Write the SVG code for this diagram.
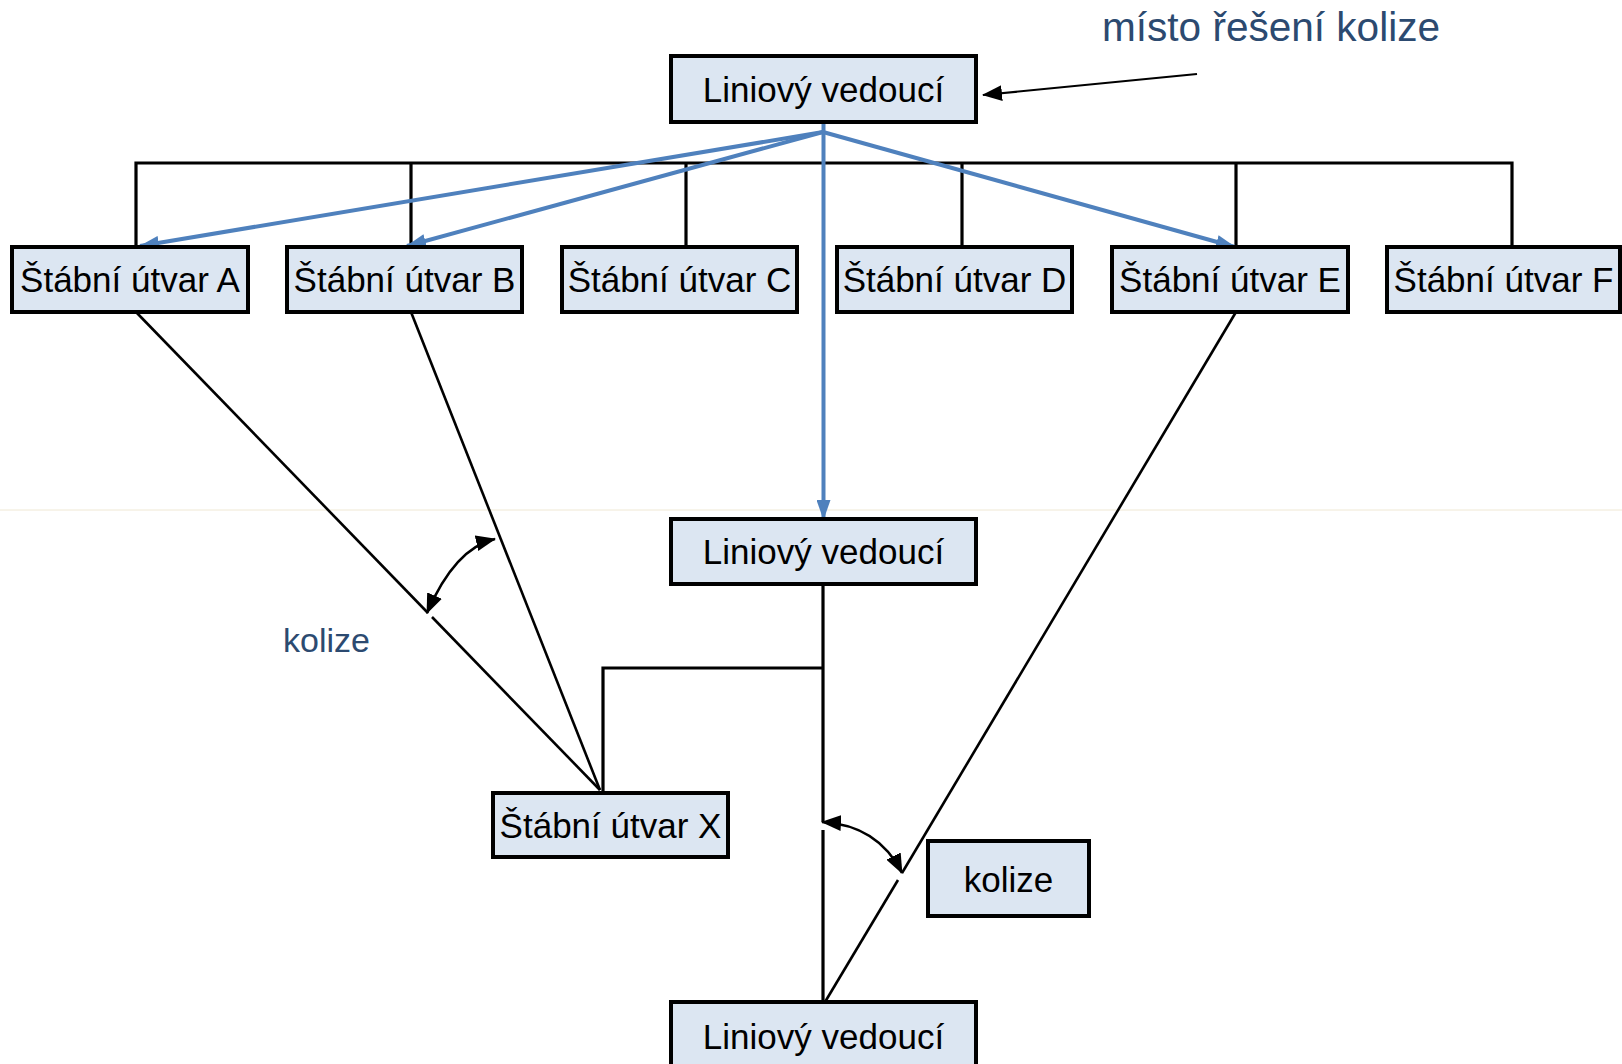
<svg xmlns="http://www.w3.org/2000/svg" width="1622" height="1064" viewBox="0 0 1622 1064">
<style>
.box{fill:#dce6f2;stroke:#000;stroke-width:4}
.t{font-family:"Liberation Sans",Arial,sans-serif;font-size:35px;fill:#000;text-anchor:middle}
.lbl{font-family:"Liberation Sans",Arial,sans-serif;fill:#2c4a70}
.ln{fill:none;stroke:#000;stroke-width:3.2}
.dg{fill:none;stroke:#000;stroke-width:2.6}
.bl{fill:none;stroke:#4f81bd;stroke-width:4}
</style>
<defs>
<marker id="ab" markerUnits="userSpaceOnUse" markerWidth="20" markerHeight="14" refX="19" refY="7" orient="auto"><path d="M0,0 L20,7 L0,14 z" fill="#4f81bd"/></marker>
<marker id="ak" markerUnits="userSpaceOnUse" markerWidth="20" markerHeight="16" refX="19" refY="8" orient="auto-start-reverse"><path d="M0,0 L20,8 L0,16 z" fill="#000"/></marker>
</defs>
<rect width="1622" height="1064" fill="#fff"/>
<line x1="0" y1="510" x2="1622" y2="510" stroke="#efe8d4" stroke-width="1"/>
<g id="connectors">
<polyline class="ln" points="136,247 136,163 1512,163 1512,247"/>
<line class="ln" x1="411" y1="163" x2="411" y2="247"/>
<line class="ln" x1="686" y1="163" x2="686" y2="247"/>
<line class="ln" x1="962" y1="163" x2="962" y2="247"/>
<line class="ln" x1="1236" y1="163" x2="1236" y2="247"/>
<line class="ln" x1="823" y1="584" x2="823" y2="822"/>
<line class="ln" x1="823" y1="830" x2="823" y2="1002"/>
<polyline class="ln" points="823,668 603,668 603,793"/>
<line class="dg" x1="136" y1="312" x2="428" y2="613"/>
<line class="dg" x1="432" y1="617" x2="600" y2="790"/>
<line class="dg" x1="411" y1="312" x2="600" y2="790"/>
<line class="dg" x1="1236" y1="312" x2="902" y2="873"/>
<line class="dg" x1="898" y1="880" x2="825" y2="1002"/>
<path class="dg" d="M427,613 Q455,548 495,539" marker-start="url(#ak)" marker-end="url(#ak)"/>
<path class="dg" d="M822,822 Q878,825 902,873" marker-start="url(#ak)" marker-end="url(#ak)"/>
<line stroke="#000" stroke-width="2.2" x1="1197" y1="74" x2="983" y2="95" marker-end="url(#ak)"/>
<line class="bl" x1="823.5" y1="122" x2="823.5" y2="519" marker-end="url(#ab)"/>
<line class="bl" x1="823" y1="132" x2="140" y2="246" marker-end="url(#ab)"/>
<line class="bl" x1="823" y1="132" x2="407" y2="246" marker-end="url(#ab)"/>
<line class="bl" x1="823" y1="132" x2="1235" y2="247" marker-end="url(#ab)"/>
</g>
<g id="lv1"><rect class="box" x="671" y="56" width="305" height="66"/><text class="t" x="823.5" y="102">Liniový vedoucí</text></g>
<g id="sa"><rect class="box" x="12" y="247" width="236" height="65"/><text class="t" x="130" y="292">Štábní útvar A</text></g>
<g id="sb"><rect class="box" x="287" y="247" width="235" height="65"/><text class="t" x="404.5" y="292">Štábní útvar B</text></g>
<g id="sc"><rect class="box" x="562" y="247" width="235" height="65"/><text class="t" x="679.5" y="292">Štábní útvar C</text></g>
<g id="sd"><rect class="box" x="837" y="247" width="235" height="65"/><text class="t" x="954.5" y="292">Štábní útvar D</text></g>
<g id="se"><rect class="box" x="1112" y="247" width="236" height="65"/><text class="t" x="1230" y="292">Štábní útvar E</text></g>
<g id="sf"><rect class="box" x="1387" y="247" width="233" height="65"/><text class="t" x="1503.5" y="292">Štábní útvar F</text></g>
<g id="lv2"><rect class="box" x="671" y="519" width="305" height="65"/><text class="t" x="823.5" y="564">Liniový vedoucí</text></g>
<g id="sx"><rect class="box" x="493" y="793" width="235" height="64"/><text class="t" x="610.5" y="838">Štábní útvar X</text></g>
<g id="kol"><rect class="box" x="928" y="841" width="161" height="75"/><text class="t" x="1008.5" y="892">kolize</text></g>
<g id="lv3"><rect class="box" x="671" y="1002" width="305" height="66"/><text class="t" x="823.5" y="1049">Liniový vedoucí</text></g>
<text class="lbl" x="1102" y="41" font-size="40" textLength="338" lengthAdjust="spacingAndGlyphs">místo řešení kolize</text>
<text class="lbl" x="283" y="652" font-size="34">kolize</text>
</svg>
